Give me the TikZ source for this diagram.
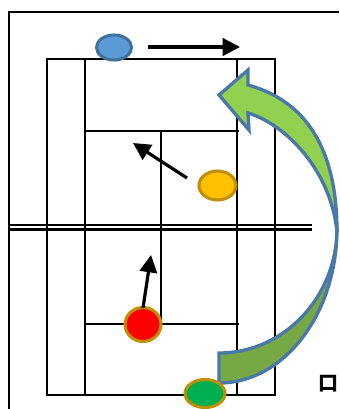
\documentclass[tikz,border=0pt]{standalone}
\usepackage{fontspec}
\newfontfamily\cjkfont{Noto Sans CJK SC}
\usetikzlibrary{shapes}
\usetikzlibrary{arrows.meta}
\definecolor{playerblue}{HTML}{5B9BD5}
\definecolor{edgeblue}{HTML}{41719C}
\definecolor{playeryellow}{HTML}{FFC000}
\definecolor{edgegold}{HTML}{BF9000}
\definecolor{playergreen}{HTML}{00B050}
\definecolor{swingup}{HTML}{92D050}
\definecolor{swingdown}{HTML}{76A844}
\definecolor{swingedge}{HTML}{4A78A8}
\tikzstyle{player}=[
        draw,
        ellipse,
        line width=2.3pt,
        inner sep=0pt
]
\tikzstyle{court}=[line width=1.9pt]
\tikzstyle{move}=[-{Triangle[length=13pt,width=13pt]},line width=2.4pt]
\tikzstyle{swing}=[draw=swingedge,line width=2.5pt,line join=miter]

\begin{document}
\begin{tikzpicture}[x=0.75pt,y=-0.75pt]
\useasboundingbox (0,0) rectangle (339,409);
%court
\draw[court] (9,409) -- (9,12) -- (339,12);
\draw[court] (47,59) rectangle (275,395);
\draw[court] (85,59) -- (85,395);
\draw[court] (237,59) -- (237,395);
\draw[court] (85,131) -- (239,131);
\draw[court] (85,324) -- (239,324);
\draw[court] (161,131) -- (161,324);
%net
\draw[court] (9,225) -- (312,225);
\draw[court] (9,229.5) -- (312,229.5);
%curved arrow
\draw[swing,fill=swingdown] (219,383) .. controls (284,383) and (337,314) .. (337,228)
  .. controls (337,297) and (284,353) .. (219,353) -- cycle;
\draw[swing,fill=swingup] (337,232) .. controls (337,135) and (295,98) .. (248,85)
  -- (248,70) -- (219,95) -- (249,130) -- (248,113)
  .. controls (285,124) and (331,170) .. (337,232) -- cycle;
%players
\node[player,draw=edgeblue,fill=playerblue,minimum width=35pt*0.75,minimum height=25pt*0.75] (blue) at (114,47.5) {};
\node[player,draw=edgegold,fill=playeryellow,minimum width=37pt*0.75,minimum height=29pt*0.75] (yellow) at (217.5,185.5) {};
\node[player,draw=edgegold,fill=red,minimum width=36pt*0.75,minimum height=34pt*0.75] (redp) at (143,324.5) {};
\node[player,draw=edgegold,fill=playergreen,minimum width=40pt*0.75,minimum height=28pt*0.75] (green) at (205,393.5) {};
\node[font=\cjkfont\bfseries\fontsize{15}{15}\selectfont,inner sep=0pt] (mark) at (328.5,384) {口};
%arrows
\coordinate (blues) at (148,47);
\coordinate (bluee) at (240,47);
\coordinate (yellows) at (187,178);
\coordinate (yellowe) at (133,143);
\coordinate (reds) at (143,308);
\coordinate (rede) at (151,255);
\draw[move] (blues) -- (bluee);
\draw[move] (yellows) -- (yellowe);
\draw[move] (reds) -- (rede);
\end{tikzpicture}
\end{document}
